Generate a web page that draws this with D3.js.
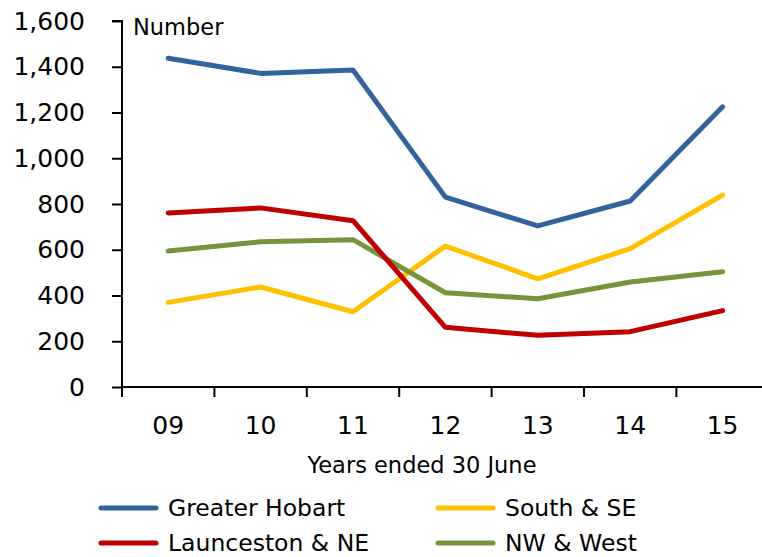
<!DOCTYPE html>
<html>
<head>
<meta charset="utf-8">
<script src="https://cdn.jsdelivr.net/npm/d3@7"></script>
<style>
  html, body { margin: 0; padding: 0; background: #fff; }
  svg { display: block; font-family: "DejaVu Sans", sans-serif; }
</style>
</head>
<body>
<svg id="chart" width="762" height="557"></svg>
<script>
const categories = ["09", "10", "11", "12", "13", "14", "15"];
const greaterHobart = [1437, 1371, 1386, 830, 704, 813, 1225];
const launcestonNE = [761, 783, 727, 261, 226, 242, 334];
const southSE = [370, 437, 329, 616, 473, 605, 839];
const nwWest = [595, 635, 644, 412, 386, 459, 504];
const yTicks = [0, 200, 400, 600, 800, 1000, 1200, 1400, 1600];
const seriesNames = ["Greater Hobart", "South & SE", "Launceston & NE", "NW & West"];
const seriesColors = ["#32639b", "#ffc000", "#c00000", "#77933c"];
const seriesValues = [greaterHobart, southSE, launcestonNE, nwWest];
const yAxisTitle = "Number";
const xAxisTitle = "Years ended 30 June";

const svg = d3.select("#chart");
const mLeft = 122, mTop = 21, mBottom = 387, band = 92.4;
const font = "DejaVu Sans";

const x = d3.scaleBand().domain(categories).range([mLeft, mLeft + band * categories.length]).padding(0);
const y = d3.scaleLinear().domain([0, 1600]).range([mBottom, mTop]);

const line = d3.line().x((d, i) => x(categories[i]) + x.bandwidth() / 2).y(d => y(d));
const drawOrder = [1, 3, 2, 0];
drawOrder.forEach(k => {
  svg.append("path")
    .datum(seriesValues[k])
    .attr("d", line)
    .attr("fill", "none")
    .attr("stroke", seriesColors[k])
    .attr("stroke-width", 5)
    .attr("stroke-linejoin", "round")
    .attr("stroke-linecap", "round");
});

const yAxis = d3.axisLeft(y).tickValues(yTicks).tickSize(10).tickPadding(27).tickFormat(d3.format(","));
const gy = svg.append("g").attr("transform", `translate(${mLeft},0)`).call(yAxis);
gy.select(".domain").attr("stroke", "#000").attr("stroke-width", 2).attr("d", `M-10,${mTop}H0V${mBottom}`);
gy.selectAll(".tick line").attr("stroke", "#000").attr("stroke-width", 2);
gy.selectAll(".tick text").attr("font-size", 25).attr("fill", "#000").attr("font-family", font);

const xAxis = d3.axisBottom(x).tickSize(0).tickPadding(29);
const gx = svg.append("g").attr("transform", `translate(0,${mBottom})`).call(xAxis);
gx.select(".domain").attr("stroke", "#000").attr("stroke-width", 2).attr("d", `M${mLeft},0H${mLeft + band * categories.length}`);
gx.selectAll(".tick text").attr("font-size", 25).attr("fill", "#000").attr("font-family", font).attr("dy", "0.71em");
gx.selectAll(".bt").data(categories).enter().append("line")
  .attr("class", "bt")
  .attr("x1", d => x(d)).attr("x2", d => x(d))
  .attr("y1", 0).attr("y2", 10)
  .attr("stroke", "#000").attr("stroke-width", 2);

svg.append("text").attr("x", 133).attr("y", 35).attr("font-size", 22.5).attr("fill", "#000").text(yAxisTitle);
svg.append("text").attr("x", 422).attr("y", 473).attr("text-anchor", "middle").attr("font-size", 22.5).attr("fill", "#000").text(xAxisTitle);

const legendPos = [[101, 508], [438, 508], [101, 543], [438, 543]];
seriesNames.forEach((name, i) => {
  const [lx, ly] = legendPos[i];
  const g = svg.append("g").attr("transform", `translate(${lx},${ly})`);
  g.append("line").attr("x1", 0).attr("x2", 55).attr("y1", 0).attr("y2", 0)
    .attr("stroke", seriesColors[i]).attr("stroke-width", 5).attr("stroke-linecap", "round");
  g.append("text").attr("x", 67).attr("y", 0).attr("dy", "0.36em").attr("font-size", 23.5).attr("fill", "#000").text(name);
});
</script>
</body>
</html>
